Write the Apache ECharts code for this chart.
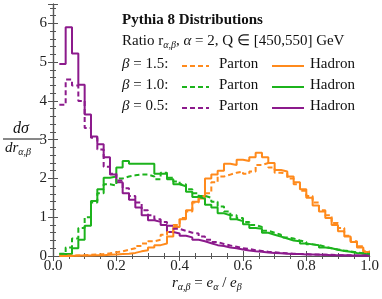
<!DOCTYPE html>
<html><head><meta charset="utf-8">
<script src="https://cdn.jsdelivr.net/npm/echarts@6/dist/echarts.min.js"></script>
<style>html,body{margin:0;padding:0;background:#fff}#c{width:382px;height:299px}</style>
</head><body><div id="c"></div>
<script>
// bin left edges (bin width 0.02)
const binLeft = [0.02,0.04,0.06,0.08,0.10,0.12,0.14,0.16,0.18,0.20,0.22,0.24,0.26,0.28,0.30,0.32,0.34,0.36,0.38,0.40,0.42,0.44,0.46,0.48,0.50,0.52,0.54,0.56,0.58,0.60,0.62,0.64,0.66,0.68,0.70,0.72,0.74,0.76,0.78,0.80,0.82,0.84,0.86,0.88,0.90,0.92,0.94,0.96,0.98];
const binEnd = 1.0;

// beta = 1.5
const orangeParton = [0.01,0.01,0.01,0.02,0.03,0.04,0.05,0.07,0.10,0.12,0.16,0.20,0.26,0.32,0.38,0.42,0.55,0.62,0.80,0.98,1.15,1.38,1.55,1.62,1.90,2.05,2.10,2.15,2.18,2.12,2.18,2.35,2.40,2.28,2.15,2.12,2.00,1.85,1.68,1.55,1.38,1.18,1.05,0.85,0.72,0.52,0.38,0.25,0.12];
const orangeHadron = [0.00,0.00,0.01,0.01,0.01,0.02,0.02,0.03,0.04,0.05,0.06,0.08,0.12,0.15,0.22,0.28,0.32,0.50,0.75,0.95,1.18,1.40,1.48,2.00,2.10,2.20,2.38,2.35,2.48,2.45,2.55,2.66,2.55,2.40,2.22,2.18,2.05,1.90,1.72,1.50,1.30,1.15,0.98,0.80,0.64,0.50,0.36,0.22,0.10];
// beta = 1.0
const greenParton = [0.06,0.22,0.45,0.72,1.00,1.38,1.62,1.85,1.82,2.00,2.05,2.08,2.10,2.10,2.05,1.98,2.15,2.02,1.92,1.85,1.72,1.62,1.55,1.50,1.40,1.28,1.15,1.05,0.98,0.88,0.80,0.75,0.65,0.60,0.55,0.48,0.45,0.40,0.36,0.30,0.28,0.24,0.20,0.17,0.14,0.12,0.09,0.07,0.05];
const greenHadron = [0.05,0.05,0.20,0.42,0.78,1.42,1.72,2.02,2.05,2.28,2.45,2.38,2.38,2.38,2.38,2.12,2.12,1.98,1.85,1.80,1.66,1.52,1.48,1.32,1.25,1.10,1.05,0.95,0.90,0.82,0.72,0.70,0.60,0.55,0.50,0.45,0.40,0.38,0.32,0.30,0.28,0.22,0.20,0.16,0.13,0.11,0.08,0.06,0.04];
// beta = 0.5
const purpleParton = [3.90,4.55,4.40,4.00,3.30,3.05,2.75,2.30,2.12,1.95,1.75,1.55,1.38,1.18,1.05,0.95,0.88,0.78,0.70,0.65,0.60,0.58,0.50,0.42,0.36,0.31,0.27,0.24,0.20,0.18,0.15,0.13,0.11,0.10,0.08,0.07,0.06,0.05,0.05,0.04,0.04,0.03,0.03,0.02,0.02,0.02,0.01,0.01,0.01];
const purpleHadron = [4.95,5.90,5.22,4.42,3.65,3.08,2.88,2.55,2.10,1.90,1.62,1.45,1.25,1.05,0.92,0.88,0.80,0.62,0.58,0.52,0.48,0.42,0.38,0.33,0.28,0.26,0.22,0.20,0.17,0.14,0.12,0.11,0.09,0.08,0.07,0.06,0.05,0.05,0.04,0.04,0.03,0.03,0.02,0.02,0.02,0.01,0.01,0.01,0.01];

const xTicks = [0.0,0.2,0.4,0.6,0.8,1.0];
const yTicks = [0,1,2,3,4,5,6];

const ORANGE = '#ff8a1c', GREEN = '#1cb31c', PURPLE = '#8c1a8c';
const FAM = 'Liberation Serif';
const FONT = '"Liberation Serif", serif';

function steps(vals){
  const d = binLeft.map((x,i)=>[x, vals[i]]);
  d.push([binEnd, vals[vals.length-1]]);
  return d;
}
function ser(name, vals, color, dashed){
  return {name, type:'line', step:'end', data:steps(vals), symbol:'none', animation:false,
    lineStyle:{color, width:2, type: dashed ? [5,3] : 'solid'}, z: dashed?3:2};
}

const chart = echarts.init(document.getElementById('c'), null, {renderer:'canvas'});
const axisLine = {show:true, lineStyle:{color:'#555', width:1.2}};
const axisTick = {show:true, inside:true, length:5, lineStyle:{color:'#555'}};
const lab = {fontFamily:FAM, fontSize:15, color:'#222'};
chart.setOption({
  backgroundColor:'#fff',
  animation:false,
  grid:{left:53, right:9, top:4, bottom:43},
  xAxis:[
    {type:'value', min:0, max:1, interval:0.2, position:'bottom', axisLine, axisTick, splitLine:{show:false},
      minorTick:{show:true, splitNumber:4, length:3, lineStyle:{color:'#555'}},
      axisLabel:Object.assign({margin:3, formatter:v=>xTicks.includes(+v.toFixed(1))?v.toFixed(1):''}, lab)},
    {type:'value', min:0, max:1, interval:0.2, position:'top', axisLine, axisTick, splitLine:{show:false},
      minorTick:{show:true, splitNumber:4, length:3, lineStyle:{color:'#555'}}, axisLabel:{show:false}}
  ],
  yAxis:[
    {type:'value', min:0, max:6.5, interval:1, position:'left', axisLine, axisTick, splitLine:{show:false},
      minorTick:{show:true, splitNumber:5, length:3, lineStyle:{color:'#555'}},
      axisLabel:Object.assign({margin:6, formatter:v=>yTicks.includes(v)?String(v):''}, lab)},
    {type:'value', min:0, max:6.5, interval:1, position:'right', axisLine, axisTick, splitLine:{show:false},
      minorTick:{show:true, splitNumber:5, length:3, lineStyle:{color:'#555'}}, axisLabel:{show:false}}
  ],
  series:[
    ser('orangeHadron', orangeHadron, ORANGE, false),
    ser('orangeParton', orangeParton, ORANGE, true),
    ser('greenHadron', greenHadron, GREEN, false),
    ser('greenParton', greenParton, GREEN, true),
    ser('purpleHadron', purpleHadron, PURPLE, false),
    ser('purpleParton', purpleParton, PURPLE, true),
  ],
  graphic:[
    {type:'text', left:122, top:13, style:{text:'Pythia 8 Distributions', font:'bold 15px '+FONT, fill:'#111'}},
    {type:'text', left:122, top:34, style:{rich:{
        n:{fontFamily:FAM, fontSize:15, fill:'#111'},
        i:{fontFamily:FAM, fontSize:15, fontStyle:'italic', fill:'#111'},
        s:{fontFamily:FAM, fontSize:10, fontStyle:'italic', fill:'#111', padding:[8,0,0,0]}},
      text:'{n|Ratio r}{s|α,β}{n|, }{i|α}{n| = 2, Q ∈ [450,550] GeV}'}},
    ...[['1.5',ORANGE,57],['1.0',GREEN,78],['0.5',PURPLE,99]].flatMap(([b,c,t])=>[
      {type:'text', left:122, top:t, style:{rich:{
          n:{fontFamily:FAM, fontSize:15, fill:'#111'},
          i:{fontFamily:FAM, fontSize:15, fontStyle:'italic', fill:'#111'}},
        text:'{i|β}{n| = '+b+':}'}},
      {type:'line', shape:{x1:182,y1:t+9,x2:209,y2:t+9}, style:{stroke:c, lineWidth:2, lineDash:[5,3]}},
      {type:'text', left:219, top:t, style:{text:'Parton', font:'15px '+FONT, fill:'#111'}},
      {type:'line', shape:{x1:272,y1:t+9,x2:304,y2:t+9}, style:{stroke:c, lineWidth:2}},
      {type:'text', left:310, top:t, style:{text:'Hadron', font:'15px '+FONT, fill:'#111'}},
    ]),
    {type:'text', left:13, top:121, style:{text:'dσ', font:'italic 16px '+FONT, fill:'#111'}},
    {type:'line', shape:{x1:3,y1:139,x2:42,y2:139}, style:{stroke:'#111', lineWidth:1}},
    {type:'text', left:5, top:141, style:{rich:{
        i:{fontFamily:FAM, fontSize:15, fontStyle:'italic', fill:'#111'},
        s:{fontFamily:FAM, fontSize:10, fontStyle:'italic', fill:'#111', padding:[8,0,0,0]}},
      text:'{i|dr}{s|α,β}'}},
    {type:'text', left:172, top:276, style:{rich:{
        i:{fontFamily:FAM, fontSize:15, fontStyle:'italic', fill:'#111'},
        n:{fontFamily:FAM, fontSize:15, fill:'#111'},
        s:{fontFamily:FAM, fontSize:10, fontStyle:'italic', fill:'#111', padding:[8,0,0,0]}},
      text:'{i|r}{s|α,β}{n| = }{i|e}{s|α}{n| / }{i|e}{s|β}'}},
  ]
});
</script></body></html>
